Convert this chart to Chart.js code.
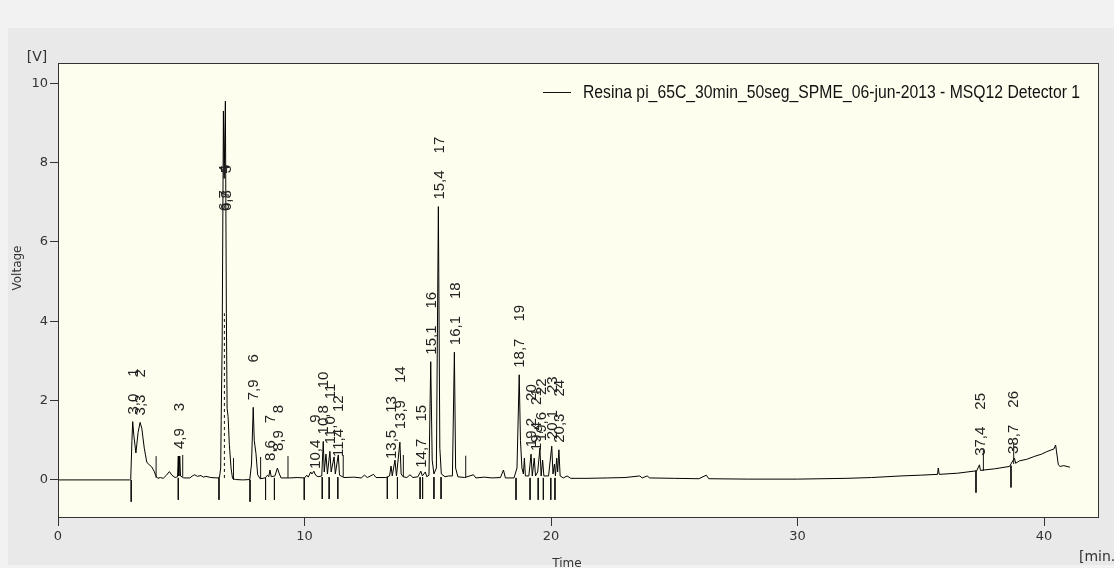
<!DOCTYPE html>
<html>
<head>
<meta charset="utf-8">
<script src="https://cdn.jsdelivr.net/npm/chart.js@4.4.0/dist/chart.umd.min.js"></script>
<style>
  html, body { margin: 0; padding: 0; background: #f2f2f2; }
  #chart { display: block; }
</style>
</head>
<body>
<canvas id="chart" width="1114" height="568"></canvas>
<script>
// detector trace (time in min, voltage in V)
const traceTime = [0, 2.9, 2.95, 3.0, 3.03, 3.08, 3.16, 3.25, 3.33, 3.4, 3.5, 3.6, 3.7, 3.8, 3.9, 3.97, 4.05, 4.15, 4.27, 4.4, 4.52, 4.62, 4.75, 4.85, 4.88, 4.9, 4.94, 4.97, 5.1, 5.35, 5.45, 5.55, 5.65, 5.8, 5.9, 6.0, 6.2, 6.45, 6.55, 6.6, 6.62, 6.66, 6.71, 6.74, 6.79, 6.83, 6.86, 6.9, 6.95, 7.02, 7.08, 7.2, 7.5, 7.78, 7.85, 7.92, 7.96, 8.03, 8.1, 8.2, 8.4, 8.5, 8.55, 8.6, 8.65, 8.8, 8.9, 8.98, 9.05, 9.4, 9.7, 10.0, 10.09, 10.15, 10.25, 10.3, 10.38, 10.45, 10.55, 10.7, 10.76, 10.8, 10.87, 10.93, 11.03, 11.08, 11.2, 11.25, 11.37, 11.42, 11.6, 12.0, 12.3, 12.43, 12.55, 12.8, 12.9, 13.3, 13.45, 13.51, 13.56, 13.67, 13.73, 13.87, 13.92, 14.0, 14.15, 14.28, 14.4, 14.6, 14.72, 14.78, 14.9, 14.96, 15.05, 15.12, 15.18, 15.25, 15.35, 15.43, 15.49, 15.55, 15.7, 15.85, 16.0, 16.08, 16.13, 16.22, 16.5, 16.85, 16.95, 17.3, 17.6, 17.95, 18.07, 18.15, 18.5, 18.62, 18.71, 18.76, 18.82, 18.88, 18.92, 18.96, 19.1, 19.19, 19.24, 19.32, 19.37, 19.46, 19.55, 19.6, 19.66, 19.71, 19.9, 20.03, 20.08, 20.14, 20.18, 20.23, 20.27, 20.32, 20.37, 20.5, 20.65, 20.8, 21.5, 22.3, 23.0, 23.6, 23.7, 23.9, 24.0, 25.0, 26.0, 26.3, 26.4, 28.0, 30.0, 32.0, 33.0, 34.2, 35.0, 35.68, 35.71, 35.75, 36.5, 37.27, 37.38, 37.42, 38.0, 38.6, 38.8, 38.85, 39.0, 39.3, 39.6, 39.9, 40.1, 40.4, 40.47, 40.5, 40.58, 40.65, 40.8, 41.05];
const traceVolt = [0, 0, 0.02, 1.0, 1.47, 1.1, 0.68, 1.2, 1.45, 1.3, 0.8, 0.45, 0.38, 0.33, 0.22, 0.1, 0.04, 0.06, 0.04, 0.12, 0.21, 0.12, 0.06, 0.08, 0.6, 0.1, 0.6, 0.1, 0.05, 0.05, 0.1, 0.13, 0.09, 0.11, 0.07, 0.09, 0.06, 0.05, 0.06, 0.3, 1.5, 3.5, 9.3, 7.6, 9.55, 4.2, 1.8, 1.6, 0.9, 0.3, 0.04, 0.01, 0.0, 0.01, 0.4, 1.83, 1.0, 0.67, 0.13, 0.03, 0.05, 0.12, 0.08, 0.25, 0.08, 0.1, 0.3, 0.15, 0.05, 0.05, 0.06, 0.05, 0.12, 0.07, 0.2, 0.15, 0.22, 0.12, 0.08, 0.1, 0.97, 0.2, 0.65, 0.15, 0.72, 0.2, 0.58, 0.15, 0.63, 0.12, 0.06, 0.07, 0.05, 0.12, 0.06, 0.14, 0.06, 0.06, 0.1, 0.35, 0.1, 0.5, 0.1, 0.95, 0.15, 0.08, 0.06, 0.13, 0.06, 0.08, 0.22, 0.1, 0.2, 0.08, 0.12, 2.98, 0.5, 0.15, 0.3, 6.89, 0.8, 0.15, 0.08, 0.1, 0.1, 3.22, 0.3, 0.08, 0.06, 0.13, 0.05, 0.07, 0.05, 0.06, 0.25, 0.05, 0.05, 0.3, 2.65, 1.0, 0.3, 0.15, 0.55, 0.1, 0.1, 0.65, 0.1, 0.55, 0.1, 0.2, 0.8, 0.1, 0.5, 0.1, 0.1, 0.85, 0.15, 0.4, 0.1, 0.55, 0.2, 0.76, 0.1, 0.05, 0.1, 0.04, 0.04, 0.05, 0.06, 0.1, 0.05, 0.1, 0.05, 0.04, 0.03, 0.12, 0.03, 0.02, 0.02, 0.04, 0.06, 0.1, 0.12, 0.14, 0.3, 0.14, 0.17, 0.23, 0.38, 0.24, 0.28, 0.34, 0.55, 0.42, 0.48, 0.52, 0.59, 0.65, 0.71, 0.78, 0.88, 0.75, 0.38, 0.34, 0.36, 0.32];

// integrated peaks
const peakNumber = ["1", "2", "3", "4", "5", "6", "7", "8", "9", "10", "11", "12", "13", "14", "15", "16", "17", "18", "19", "20", "21", "22", "23", "24", "25", "26"];
const peakLabel = ["3,0", "3,3", "4,9", "6,7", "6,8", "7,9", "8,6", "8,9", "10,4", "10,8", "11,0", "11,4", "13,5", "13,9", "14,7", "15,1", "15,4", "16,1", "18,7", "19,2", "19,4", "19,6", "20,1", "20,3", "37,4", "38,7"];
const peakTime = [3.03, 3.33, 4.9, 6.71, 6.79, 7.92, 8.58, 8.9, 10.4, 10.76, 11.03, 11.37, 13.51, 13.87, 14.72, 15.12, 15.43, 16.08, 18.71, 19.17, 19.4, 19.57, 20.03, 20.32, 37.38, 38.75];
const peakHeight = [1.47, 1.45, 0.6, 6.6, 6.6, 1.83, 0.3, 0.55, 0.1, 0.97, 0.72, 0.4, 0.35, 1.1, 0.13, 2.98, 6.89, 3.22, 2.65, 0.65, 0.55, 0.8, 0.85, 0.76, 0.43, 0.48];

// peak start marks (drawn downwards) and peak end marks (drawn upwards)
const startTime = [2.97, 4.88, 6.53, 7.79, 8.42, 8.78, 9.99, 10.72, 11.0, 11.35, 13.36, 13.77, 14.69, 14.79, 15.25, 15.54, 18.58, 19.15, 19.48, 19.69, 19.99, 20.16, 37.24, 38.66];
const startLevel = [0.0, 0.05, 0.05, 0.0, 0.05, 0.05, 0.05, 0.07, 0.07, 0.07, 0.07, 0.07, 0.07, 0.07, 0.07, 0.07, 0.05, 0.05, 0.05, 0.05, 0.05, 0.05, 0.23, 0.36];
const endTime = [3.98, 5.06, 7.12, 8.22, 9.33, 11.57, 14.01, 16.54, 37.54, 38.77];
const endLevel = [0.05, 0.08, 0.0, 0.03, 0.05, 0.08, 0.08, 0.06, 0.23, 0.4];

// drop line splitting peaks 4 and 5
const dropTime = [6.75, 6.75];
const dropVolt = [0.05, 4.2];

const xTicks = [0, 10, 20, 30, 40];
const yTicks = [0, 2, 4, 6, 8, 10];

const legendText = "Resina pi_65C_30min_50seg_SPME_06-jun-2013 - MSQ12 Detector 1";

const MARK = 0.55;

function pairs(xs, ys) {
  return xs.map((x, i) => ({ x: x, y: ys[i] }));
}

function markSegments(times, levels, dir) {
  let pts = [];
  for (let i = 0; i < times.length; i++) {
    pts.push({ x: times[i], y: levels[i] });
    pts.push({ x: times[i], y: levels[i] + dir * MARK });
    pts.push({ x: times[i], y: null });
  }
  return pts;
}

const decor = {
  id: 'decor',
  beforeDraw(chart) {
    const ctx = chart.ctx, a = chart.chartArea;
    ctx.save();
    ctx.fillStyle = '#f2f2f2';
    ctx.fillRect(0, 0, chart.width, chart.height);
    ctx.fillStyle = '#e9e9e9';
    ctx.fillRect(8, 28, chart.width - 8, chart.height - 31);
    ctx.fillStyle = '#fefeee';
    ctx.fillRect(a.left, a.top, a.right - a.left, a.bottom - a.top);
    ctx.restore();
  },
  afterDatasetsDraw(chart) {
    const ctx = chart.ctx, a = chart.chartArea;
    const xs = chart.scales.x, ys = chart.scales.y;
    ctx.save();
    ctx.beginPath();
    ctx.rect(a.left, a.top, a.right - a.left, a.bottom - a.top);
    ctx.clip();
    ctx.fillStyle = '#222';
    ctx.font = '15px "Liberation Sans", Arial, sans-serif';
    ctx.textBaseline = 'middle';
    ctx.textAlign = 'left';
    for (let i = 0; i < peakLabel.length; i++) {
      const px = xs.getPixelForValue(peakTime[i]) + 1;
      const py = ys.getPixelForValue(peakHeight[i]) - 7;
      const w = ctx.measureText(peakLabel[i]).width;
      ctx.save();
      ctx.translate(px, py);
      ctx.rotate(-Math.PI / 2);
      ctx.fillText(peakLabel[i], 0, 0);
      ctx.fillText(peakNumber[i], w + 17, 0);
      ctx.restore();
    }
    ctx.restore();

    // legend
    ctx.save();
    ctx.strokeStyle = '#111';
    ctx.lineWidth = 1;
    ctx.beginPath();
    ctx.moveTo(543, 92.5);
    ctx.lineTo(571, 92.5);
    ctx.stroke();
    ctx.font = '18px "Liberation Sans Narrow", "Arial Narrow", "Liberation Sans", sans-serif';
    ctx.fillStyle = '#111';
    ctx.textBaseline = 'middle';
    const tw = ctx.measureText(legendText).width;
    ctx.translate(583, 93);
    ctx.scale(497 / tw, 1);
    ctx.fillText(legendText, 0, 0);
    ctx.restore();

    // frame and axis captions
    ctx.save();
    ctx.strokeStyle = '#333';
    ctx.lineWidth = 1;
    ctx.strokeRect(a.left + 0.5, a.top + 0.5, a.right - a.left - 1, a.bottom - a.top - 1);
    ctx.fillStyle = '#333';
    ctx.font = '14px "DejaVu Sans", sans-serif';
    ctx.textBaseline = 'middle';
    ctx.textAlign = 'center';
    ctx.fillText('[V]', 37, 57);
    ctx.textAlign = 'left';
    ctx.fillText('[min.', 1079, 557);
    ctx.font = '12px "DejaVu Sans", sans-serif';
    ctx.textAlign = 'center';
    ctx.fillText('Time', 567, 564);
    ctx.translate(18, 268);
    ctx.rotate(-Math.PI / 2);
    ctx.fillText('Voltage', 0, 0);
    ctx.restore();
  }
};

const tickFont = { family: '"DejaVu Sans", sans-serif', size: 13 };

new Chart(document.getElementById('chart'), {
  type: 'line',
  data: {
    datasets: [
      { data: pairs(traceTime, traceVolt), borderColor: '#000', borderWidth: 1, pointRadius: 0, tension: 0 },
      { data: pairs(dropTime, dropVolt), borderColor: '#111', borderWidth: 1, borderDash: [3, 3], pointRadius: 0 },
      { data: markSegments(startTime, startLevel, -1), borderColor: '#111', borderWidth: 1, pointRadius: 0, spanGaps: false },
      { data: markSegments(endTime, endLevel, 1), borderColor: '#111', borderWidth: 1, pointRadius: 0, spanGaps: false }
    ]
  },
  options: {
    responsive: false,
    animation: false,
    devicePixelRatio: 1,
    layout: { padding: { top: 63, right: 15, left: 0, bottom: 0 } },
    plugins: { legend: { display: false }, tooltip: { enabled: false } },
    scales: {
      x: {
        type: 'linear', min: 0, max: 42.23,
        border: { display: false },
        grid: { drawOnChartArea: false, tickLength: 8, tickColor: '#333' },
        ticks: { font: tickFont, color: '#333', padding: 3, maxRotation: 0 },
        afterBuildTicks: s => { s.ticks = xTicks.map(v => ({ value: v })); },
        afterFit: s => { s.height = 50; }
      },
      y: {
        type: 'linear', min: -0.96, max: 10.51,
        border: { display: false },
        grid: { drawOnChartArea: false, tickLength: 8, tickColor: '#333' },
        ticks: { font: tickFont, color: '#333', padding: 2 },
        afterBuildTicks: s => { s.ticks = yTicks.map(v => ({ value: v })); },
        afterFit: s => { s.width = 58; }
      }
    }
  },
  plugins: [decor]
});
</script>
</body>
</html>
